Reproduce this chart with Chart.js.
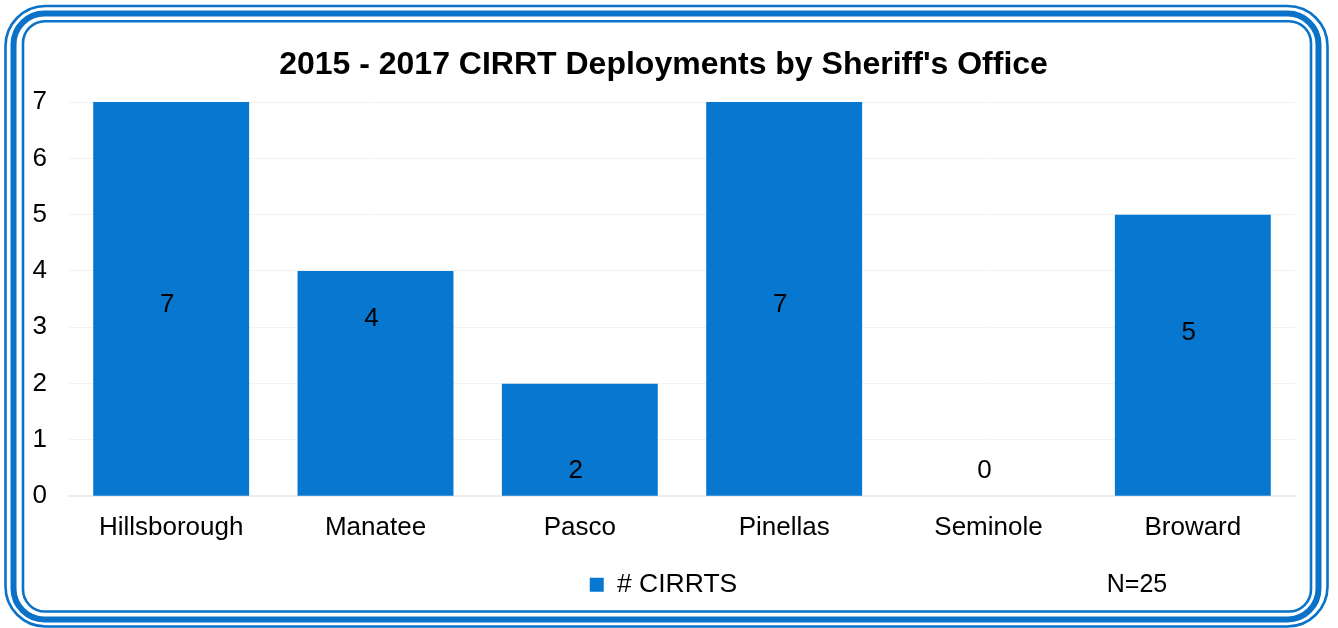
<!DOCTYPE html>
<html><head><meta charset="utf-8">
<script src="https://cdn.jsdelivr.net/npm/chart.js@4/dist/chart.umd.min.js"></script>
<style>html,body{margin:0;padding:0;background:#fff;} #wrap{width:1338px;height:628px;position:relative}</style>
</head><body><div id="wrap"><canvas id="c" width="1338" height="628"></canvas></div>
<script>
const categories = ['Hillsborough', 'Manatee', 'Pasco', 'Pinellas', 'Seminole', 'Broward'];
const deployments = [7, 4, 2, 7, 0, 5];
const yTickLabels = ['0', '1', '2', '3', '4', '5', '6', '7'];
const seriesName = '# CIRRTS';
const chartTitle = "2015 - 2017 CIRRT Deployments by Sheriff's Office";
const noteText = 'N=25';
const labelAnchors = [3.4, 3.15, 0.45, 3.4, 0.45, 2.9];

const BLUE = '#0777cf';
const FONT = "'Liberation Sans', Arial, sans-serif";

const framePlugin = {
  id: 'frame',
  beforeDraw(chart) {
    const ctx = chart.ctx;
    ctx.save();
    ctx.fillStyle = '#fff';
    ctx.fillRect(0, 0, chart.width, chart.height);
    ctx.strokeStyle = '#0a72c8';
    const rr = (x1, y1, x2, y2, r, w) => {
      ctx.lineWidth = w;
      ctx.beginPath();
      ctx.roundRect(x1, y1, x2 - x1, y2 - y1, r);
      ctx.stroke();
    };
    rr(5.5, 6, 1327.5, 626.5, 40, 2.6);
    rr(13.5, 13.5, 1318.5, 619.5, 31, 6);
    rr(23, 21.2, 1311, 611.5, 22, 2.6);
    ctx.restore();
  }
};

const labelPlugin = {
  id: 'barLabels',
  afterDatasetsDraw(chart) {
    const ctx = chart.ctx;
    const meta = chart.getDatasetMeta(0);
    const y = chart.scales.y;
    ctx.save();
    ctx.fillStyle = '#000';
    ctx.font = '26px ' + FONT;
    ctx.textAlign = 'center';
    ctx.textBaseline = 'middle';
    meta.data.forEach((bar, i) => {
      ctx.fillText(String(deployments[i]), bar.x - 4, y.getPixelForValue(labelAnchors[i]));
    });
    ctx.font = '25px ' + FONT;
    ctx.fillText(noteText, 1137, 585);
    ctx.restore();
  }
};

new Chart(document.getElementById('c'), {
  type: 'bar',
  data: {
    labels: categories,
    datasets: [{
      label: seriesName,
      data: deployments,
      backgroundColor: BLUE,
      borderWidth: 0,
      barPercentage: 0.763,
      categoryPercentage: 1
    }]
  },
  plugins: [framePlugin, labelPlugin],
  options: {
    responsive: false,
    animation: false,
    devicePixelRatio: 1,
    layout: { padding: { left: 32, right: 43, top: 30, bottom: 20 } },
    plugins: {
      title: {
        display: true,
        text: chartTitle,
        color: '#000',
        font: { family: FONT, size: 32, weight: 'bold', lineHeight: 1.2 },
        padding: { top: 16, bottom: 17.6 }
      },
      legend: {
        display: true,
        position: 'bottom',
        labels: {
          color: '#000',
          font: { family: FONT, size: 26.5 },
          boxWidth: 14,
          boxHeight: 14,
          padding: 12
        }
      },
      tooltip: { enabled: false }
    },
    scales: {
      x: {
        grid: { display: false, drawTicks: false },
        border: { display: true, color: '#ececec', width: 2 },
        ticks: { color: '#000', font: { family: FONT, size: 26 }, padding: 16, maxRotation: 0 }
      },
      y: {
        min: 0, max: 7,
        afterFit(s) { s.width = 69 - 32; },
        grid: { color: '#f2f2f2', drawTicks: false },
        border: { display: false },
        ticks: {
          stepSize: 1, color: '#000', font: { family: FONT, size: 26 }, padding: 22,
          callback: (v) => yTickLabels[v]
        }
      }
    }
  }
});
</script>
</body></html>
